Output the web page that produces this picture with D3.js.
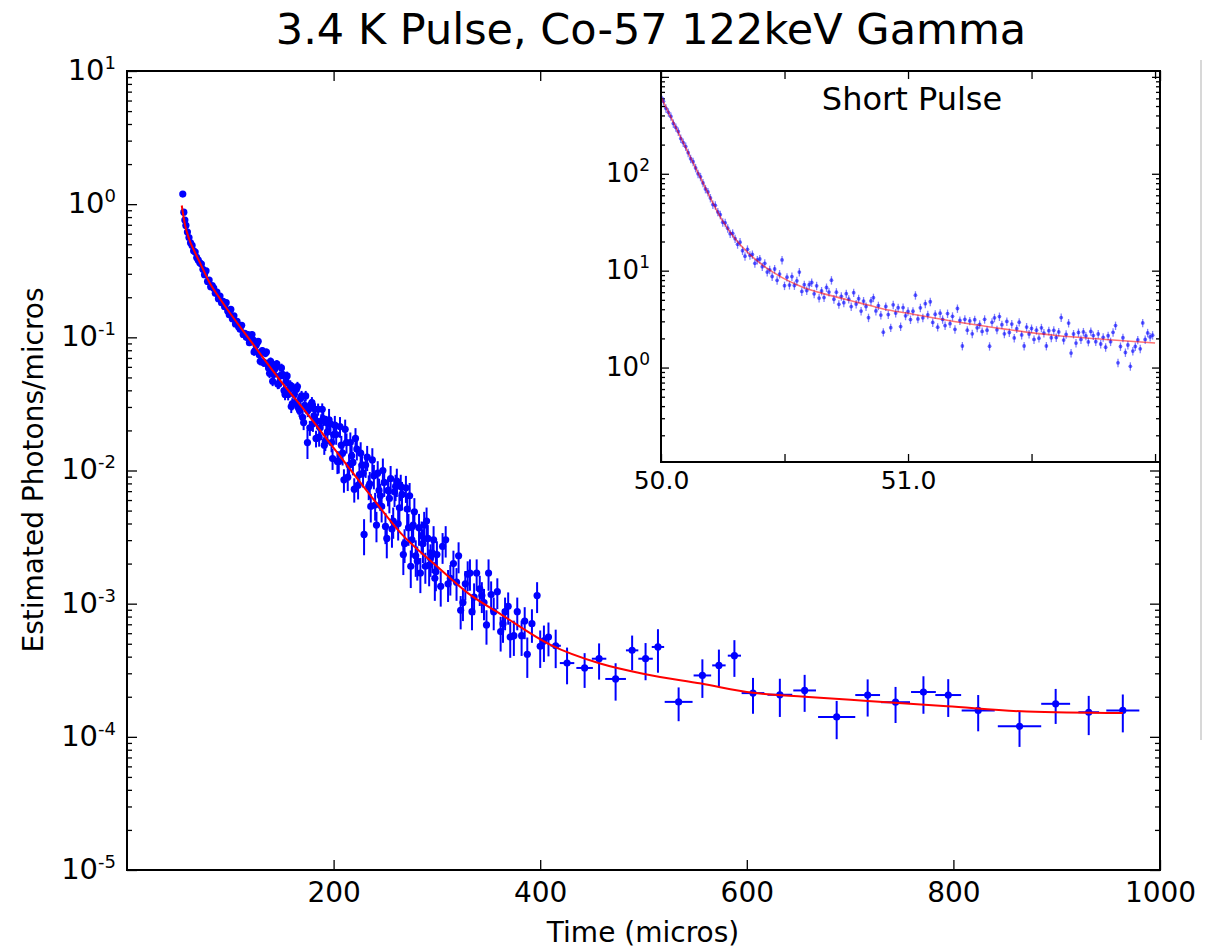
<!DOCTYPE html>
<html>
<head>
<meta charset="utf-8">
<script src="https://d3js.org/d3.v7.min.js"></script>
<style>
  body { margin: 0; background: #fff; }
  text { font-family: "DejaVu Sans", sans-serif; fill: #000; }
</style>
</head>
<body>
<svg id="chart"></svg>
<script>
// Main plot, narrow early bins (micros, photons/micros, error)
var denseTime = [54, 55, 56, 57, 58.5, 60, 61.5, 63, 64.5, 66, 67.5, 69, 70.5, 72, 73.5, 75, 76.5, 78, 79.5, 81,
    82.5, 84, 85.5, 87, 88.5, 90, 91.5, 93, 94.5, 96, 97.5, 99, 100.5, 102, 103.5, 105, 106.5, 108, 109.5, 111,
    112.5, 114, 115.5, 117, 118.5, 120,
    122, 124, 126, 128, 130, 132, 134, 136, 138, 140, 142, 144, 146, 148, 149.5, 152, 154, 156, 158, 160,
    162, 164, 166, 168, 170, 172, 174.7, 176, 178, 180, 182, 184, 186, 188, 190, 192, 194, 195.6, 198, 200,
    202.5, 205, 207.5, 210, 212.5, 215, 217.5, 220, 222.5, 225, 227.5, 229.5, 231, 234, 236, 239, 241.5, 244, 246.5, 249,
    251.5, 254, 256.5, 259, 260, 262.5, 265, 267.5, 270, 272.5, 274.7, 277, 279.5, 282.7, 284, 286.5, 290, 292.5, 295.6, 298,
    300, 303.7, 308.5, 313, 319, 323, 327.5, 332, 336, 341.5, 345.6, 350, 355, 361.7, 366, 371, 377.8, 382, 387.5, 392,
    397, 403.6];
var denseValue = [1.19, 0.871, 0.759, 0.692, 0.617, 0.562, 0.513, 0.490, 0.447, 0.437, 0.398, 0.380, 0.363, 0.355, 0.324, 0.295,
    0.316, 0.263, 0.269, 0.240, 0.245, 0.234, 0.214, 0.219, 0.195, 0.204, 0.182, 0.186, 0.170, 0.182, 0.158, 0.148,
    0.162, 0.138, 0.145, 0.126, 0.132, 0.120, 0.115, 0.123, 0.105, 0.107, 0.100, 0.105, 0.0912, 0.0977,
    0.0955, 0.0794, 0.0912, 0.0741, 0.0776, 0.0646, 0.0759, 0.0631, 0.0537, 0.0631, 0.0525, 0.0617, 0.0447, 0.0513, 0.0589, 0.0398,
    0.0468, 0.0372, 0.0437, 0.0316, 0.0372, 0.0407, 0.0295, 0.0347, 0.0251, 0.0309, 0.0162, 0.0295, 0.0309, 0.0224, 0.0288, 0.0234,
    0.0178, 0.0234, 0.0245, 0.0166, 0.0195, 0.0240, 0.0162, 0.0186,
    0.0186, 0.0117, 0.0155, 0.00851, 0.0162, 0.0110, 0.0129, 0.00724, 0.0145, 0.00933, 0.0110, 0.00331, 0.0110, 0.00759, 0.00537, 0.00912,
    0.00389, 0.00708, 0.00537, 0.00813, 0.00309, 0.00617, 0.00363, 0.00692, 0.00759, 0.00398, 0.00759, 0.00234, 0.00741, 0.00372,
    0.00191, 0.00389, 0.00229, 0.00372, 0.00170, 0.00282, 0.00417, 0.00195, 0.00240, 0.00155,
    0.00234, 0.00135, 0.00302, 0.00155, 0.00145, 0.000891, 0.00141, 0.00170, 0.00112, 0.00129, 0.00102, 0.00170, 0.000871, 0.000617,
    0.000871, 0.000562, 0.000871, 0.000575, 0.000417, 0.000708, 0.00115, 0.000525];
var denseErr = [0.036, 0.026, 0.023, 0.021, 0.019, 0.017, 0.016, 0.015, 0.014, 0.014, 0.013, 0.012, 0.012, 0.012, 0.011, 0.010,
    0.011, 0.0095, 0.0095, 0.009, 0.009, 0.009, 0.0085, 0.0085, 0.008, 0.008, 0.0075, 0.0075, 0.0072, 0.0075, 0.007, 0.0068,
    0.007, 0.0065, 0.0066, 0.0062, 0.0063, 0.006, 0.0059, 0.006, 0.0056, 0.0056, 0.0055, 0.0056, 0.0052, 0.0054,
    0.0055, 0.005, 0.0055, 0.005, 0.005, 0.0046, 0.005, 0.0046, 0.0043, 0.0046, 0.0042, 0.0045, 0.0039, 0.0042, 0.0045, 0.0037,
    0.004, 0.0036, 0.0039, 0.0033, 0.0036, 0.0037, 0.0032, 0.0035, 0.003, 0.0033, 0.004, 0.0032, 0.0033, 0.0029, 0.0032, 0.003,
    0.0027, 0.003, 0.003, 0.0026, 0.0027, 0.005, 0.0025, 0.0027,
    0.003, 0.0022, 0.0027, 0.0017, 0.0028, 0.0021, 0.0024, 0.0015, 0.0026, 0.0019, 0.0021, 0.001, 0.0022, 0.0016, 0.0013, 0.0019,
    0.001, 0.0016, 0.0013, 0.0018, 0.0009, 0.0014, 0.001, 0.0016, 0.0017, 0.001, 0.0017, 0.0007, 0.0017, 0.001,
    0.0006, 0.001, 0.0007, 0.001, 0.0005, 0.0008, 0.0011, 0.0006, 0.0007, 0.0005,
    0.0006, 0.0004, 0.0008, 0.0004, 0.0004, 0.00025, 0.00035, 0.00045, 0.0003, 0.00033, 0.00027, 0.00045, 0.00024, 0.00018,
    0.00024, 0.00017, 0.00024, 0.00017, 0.00014, 0.0002, 0.0003, 0.00016];

// Main plot, the interleaved narrow bins in the same range
var oddTime = [121, 123, 125, 127, 129, 131, 133, 135, 137, 139, 141, 143, 145, 147, 151, 153, 155, 157, 159, 161,
    163, 165, 167, 169, 171, 173, 175, 177, 179, 181, 183, 185, 187, 189, 191, 193, 197, 199,
    201.2, 203.7, 206.2, 208.7, 211.2, 213.7, 216.2, 218.7, 221.2, 223.7, 226.2, 228.5, 232.5, 235, 237.5, 240.2, 242.7, 245.2,
    247.7, 250.2, 252.7, 255.2, 257.7, 261.2, 263.7, 266.2, 268.7, 271.2, 273.6, 275.8, 278.2, 281, 285.2, 287.7, 288.8, 291.2,
    293.8, 296.8, 299,
    305.5, 310.8, 316, 321, 325.2, 329.8, 334, 338.5, 343.5, 348, 352.5, 358.5, 364, 369, 374.5, 385, 400, 408];
var oddValue = [0.105, 0.0776, 0.0871, 0.0933, 0.0661, 0.0794, 0.0646, 0.0776, 0.0589, 0.0661, 0.0468, 0.0575, 0.0631, 0.0447,
    0.0525, 0.0372, 0.0513, 0.0407, 0.0302, 0.0417, 0.0324, 0.0427, 0.0282, 0.0363, 0.0229, 0.0363, 0.0282, 0.0209, 0.0324, 0.0257,
    0.0174, 0.0288, 0.0209, 0.0288, 0.0155, 0.0229, 0.0224, 0.0123,
    0.0219, 0.0117, 0.0214, 0.0135, 0.0204, 0.00891, 0.0162, 0.0115, 0.0174, 0.00776, 0.0135, 0.00955, 0.0126, 0.00794, 0.0120,
    0.00550, 0.00955, 0.00646, 0.0100, 0.00380, 0.00708, 0.00871, 0.00417, 0.00832, 0.00525, 0.00661, 0.00282, 0.00513, 0.00646,
    0.00302, 0.00490, 0.00209, 0.00324, 0.00389, 0.00191, 0.00309, 0.00219, 0.00302, 0.00174,
    0.00269, 0.00141, 0.00200, 0.00229, 0.00102, 0.00166, 0.000871, 0.00170, 0.00115, 0.000692, 0.00117, 0.00123, 0.000708,
    0.000955, 0.000575, 0.000741, 0.000479, 0.000562];
var oddErr = [0.0055, 0.0048, 0.005, 0.0052, 0.0045, 0.0048, 0.0044, 0.0048, 0.0042, 0.0044, 0.0038, 0.0042, 0.0043, 0.0037,
    0.004, 0.0035, 0.004, 0.0036, 0.0032, 0.0036, 0.0032, 0.0036, 0.003, 0.0033, 0.0028, 0.0033, 0.003, 0.0027, 0.0032, 0.0029,
    0.0025, 0.003, 0.0027, 0.0031, 0.0024, 0.0028, 0.0028, 0.0022,
    0.0038, 0.0023, 0.0038, 0.0026, 0.0037, 0.0019, 0.0031, 0.0023, 0.0034, 0.0017, 0.0028, 0.0021, 0.0027, 0.0018, 0.0027,
    0.0013, 0.0022, 0.0015, 0.0023, 0.001, 0.0017, 0.0021, 0.0011, 0.002, 0.0013, 0.0016, 0.0008, 0.0013, 0.0016,
    0.0008, 0.0013, 0.0006, 0.0009, 0.001, 0.0005, 0.0008, 0.0006, 0.0008, 0.0005,
    0.0007, 0.00038, 0.0005, 0.0006, 0.00028, 0.00042, 0.00024, 0.00045, 0.0003, 0.0002, 0.0003, 0.00032, 0.0002,
    0.00026, 0.00017, 0.0002, 0.00015, 0.00016];

// Main plot, wide late bins
var binTime = [415, 426, 443, 457, 473, 489, 502, 514, 534, 557, 573, 588, 606, 632, 656, 687, 717, 744, 771, 795, 824, 864, 899, 931, 964];
var binValue = [4.83e-4, 3.58e-4, 3.29e-4, 3.86e-4, 2.72e-4, 4.46e-4, 3.86e-4, 4.73e-4, 1.83e-4, 2.89e-4, 3.44e-4, 4.07e-4, 2.13e-4,
    2.07e-4, 2.23e-4, 1.41e-4, 2.06e-4, 1.82e-4, 2.17e-4, 2.06e-4, 1.58e-4, 1.2e-4, 1.77e-4, 1.53e-4, 1.58e-4];
var binErr = [1.55e-4, 1.1e-4, 0.96e-4, 1.17e-4, 0.85e-4, 1.3e-4, 1.2e-4, 1.7e-4, 0.52e-4, 0.93e-4, 1.08e-4, 1.25e-4, 0.64e-4,
    0.66e-4, 0.69e-4, 0.45e-4, 0.64e-4, 0.55e-4, 0.68e-4, 0.65e-4, 0.48e-4, 0.36e-4, 0.52e-4, 0.5e-4, 0.5e-4];
var binHalfWidth = [5, 7, 8, 7, 10, 6, 7, 6, 13.5, 8.5, 6.5, 6.4, 11, 12, 11, 18, 12, 14, 12, 12.5, 16, 21, 14, 10, 16];

// Main fit
var fitTime = [53, 56, 60, 65, 70, 80, 90, 100, 120, 150, 170, 200, 236, 265, 300, 330, 362, 410, 458, 502, 556, 606, 656, 717, 794, 871, 964];
var fitValue = [0.977, 0.708, 0.550, 0.447, 0.372, 0.257, 0.195, 0.151, 0.0933, 0.0457, 0.0295, 0.0148, 0.00646, 0.00339, 0.00191,
    0.00120, 0.000832, 0.000490, 0.000355, 0.000295, 0.000251, 0.000214, 0.000200, 0.000186, 0.000170, 0.000155, 0.000151];

// Inset: short pulse, 0.01 micros bins starting at 50.00
var insetStart = 50.0;
var insetBin = 0.01;
var insetValue = [617, 560, 474, 431, 391, 331, 301, 273, 231, 210,
    191, 165, 143, 133, 115, 100, 92.9, 80.5, 69.8, 64.9,
    56.2, 48.1, 47.2, 40.4, 37.8, 31.6, 31.2, 27.4, 24.1, 24.3,
    21.4, 18.7, 19.7, 16.1, 14.1, 16.6, 14.4, 14.7, 11.9, 12.9,
    13.2, 11.0, 11.9, 9.68, 10.2, 8.71, 10.4, 7.94, 9.23, 12.9,
    7.00, 8.57, 7.10, 8.69, 7.03, 7.85, 9.66, 6.10, 7.16, 6.24,
    7.16, 7.55, 5.77, 6.98, 5.21, 6.17, 5.28, 6.70, 6.01, 7.98,
    5.07, 6.00, 4.49, 5.44, 4.67, 5.79, 5.08, 4.26, 5.93, 4.53,
    5.13, 3.83, 4.86, 4.27, 3.27, 4.87, 5.26, 3.84, 4.35, 3.48,
    2.32, 4.27, 3.52, 2.58, 4.44, 3.65, 4.15, 2.65, 4.16, 3.42,
    3.80, 3.13, 3.81, 5.58, 3.18, 4.14, 3.26, 4.56, 3.50, 4.78,
    2.92, 3.55, 2.61, 3.64, 3.14, 2.71, 3.61, 2.84, 3.38, 2.48,
    4.07, 3.06, 1.67, 3.15, 2.43, 3.03, 2.23, 3.12, 2.57, 2.79,
    2.36, 3.15, 2.43, 1.66, 2.93, 3.26, 2.45, 3.36, 2.77, 2.23,
    2.99, 2.30, 2.81, 2.02, 2.52, 2.94, 2.17, 1.67, 2.62, 2.22,
    2.53, 1.95, 2.43, 2.01, 2.57, 2.27, 1.67, 2.40, 2.03, 2.42,
    2.04, 2.33, 3.28, 1.92, 2.20, 2.88, 1.41, 2.22, 1.79, 2.30,
    1.95, 2.33, 2.12, 1.84, 2.36, 2.14, 1.85, 2.22, 1.75, 2.05,
    1.62, 2.13, 1.85, 2.31, 2.71, 1.12, 1.65, 2.03, 1.43, 1.71,
    1.03, 1.48, 1.65, 1.93, 1.56, 2.89, 1.95, 2.28, 2.07, 2.16];
var insetRelErr = 0.1;

var insetFitTime = [50.0, 50.05, 50.1, 50.15, 50.2, 50.25, 50.3, 50.35, 50.4, 50.45, 50.5, 50.55, 50.6, 50.7, 50.8, 50.9, 51.0, 51.2, 51.4, 51.6, 51.8, 52.0];
var insetFitValue = [617, 339, 186, 102, 56.2, 32.4, 21.4, 15.5, 12.0, 9.77, 8.22, 7.16, 6.38, 5.43, 4.68, 4.03, 3.63, 2.95, 2.48, 2.14, 1.95, 1.79];

// Ticks
var mainXTicks = [200, 400, 600, 800, 1000];
var mainYTicks = [1e-5, 1e-4, 1e-3, 1e-2, 1e-1, 1e0, 1e1];
var mainYExp = ['-5', '-4', '-3', '-2', '-1', '0', '1'];
var insetXTicks = [50.0, 50.5, 51.0, 51.5, 52.0];
var insetXLabels = ['50.0', '', '51.0', '', ''];
var insetYTicks = [1e0, 1e1, 1e2, 1e3];
var insetYExp = ['0', '1', '2', ''];

var svg = d3.select('#chart').attr('width', 1210).attr('height', 950);

var x = d3.scaleLinear().domain([0, 1000]).range([127, 1160]);
var y = d3.scaleLog().domain([1e-5, 10]).range([870, 71]);

function isMajor(v) { return Math.abs(Math.log10(v) - Math.round(Math.log10(v))) < 1e-6; }

function cleanAxis(g, size) {
    g.attr('font-size', size).attr('font-family', null);
    g.select('.domain').remove();
    g.selectAll('.tick line').attr('stroke', '#000').attr('stroke-width', 1.3);
    g.selectAll('.tick text').attr('fill', '#000');
}

function powerLabels(g, exps, size, supSize) {
    g.selectAll('.tick text').remove();
    g.selectAll('.tick').each(function (d, i) {
        if (!exps[i]) return;
        var t = d3.select(this).append('text')
            .attr('x', -11).attr('dy', '0.29em')
            .attr('text-anchor', 'end').attr('font-size', size);
        t.append('tspan').text('10');
        t.append('tspan').attr('dy', -11).attr('font-size', supSize).text(exps[i]);
    });
}

// ---- main axes ----
var mainMinor = y.ticks().filter(function (d) { return !isMajor(d); });

svg.append('g').attr('transform', 'translate(0,870)')
    .call(d3.axisBottom(x).tickValues(mainXTicks).tickSize(-10).tickPadding(12).tickFormat(d3.format('d')))
    .call(cleanAxis, 28);
svg.append('g').attr('transform', 'translate(0,71)')
    .call(d3.axisTop(x).tickValues(mainXTicks).tickSize(-10).tickFormat(''))
    .call(cleanAxis, 28);

svg.append('g').attr('transform', 'translate(127,0)')
    .call(d3.axisLeft(y).tickValues(mainYTicks).tickSize(-10).tickFormat(''))
    .call(cleanAxis, 28)
    .call(powerLabels, mainYExp, 29, 18);
svg.append('g').attr('transform', 'translate(127,0)')
    .call(d3.axisLeft(y).tickValues(mainMinor).tickSize(-5).tickFormat(''))
    .call(cleanAxis, 28);
svg.append('g').attr('transform', 'translate(1160,0)')
    .call(d3.axisRight(y).tickValues(mainYTicks).tickSize(-10).tickFormat(''))
    .call(cleanAxis, 28);
svg.append('g').attr('transform', 'translate(1160,0)')
    .call(d3.axisRight(y).tickValues(mainMinor).tickSize(-5).tickFormat(''))
    .call(cleanAxis, 28);

// ---- main data ----
var dense = denseTime.map(function (t, i) { return { t: t, v: denseValue[i], e: denseErr[i] }; })
    .concat(oddTime.map(function (t, i) { return { t: t, v: oddValue[i], e: oddErr[i] }; }));
var bins = binTime.map(function (t, i) { return { t: t, v: binValue[i], e: binErr[i], w: binHalfWidth[i] }; });

var mainData = svg.append('g');

mainData.selectAll('line.dv').data(dense.concat(bins)).enter().append('line')
    .attr('class', 'dv')
    .attr('x1', function (d) { return x(d.t); })
    .attr('x2', function (d) { return x(d.t); })
    .attr('y1', function (d) { return y(d.v - d.e); })
    .attr('y2', function (d) { return y(d.v + d.e); })
    .attr('stroke', '#0000ff').attr('stroke-width', 2);

mainData.selectAll('line.dh').data(bins).enter().append('line')
    .attr('class', 'dh')
    .attr('x1', function (d) { return x(d.t - d.w); })
    .attr('x2', function (d) { return x(d.t + d.w); })
    .attr('y1', function (d) { return y(d.v); })
    .attr('y2', function (d) { return y(d.v); })
    .attr('stroke', '#0000ff').attr('stroke-width', 2);

mainData.selectAll('circle').data(dense.concat(bins)).enter().append('circle')
    .attr('cx', function (d) { return x(d.t); })
    .attr('cy', function (d) { return y(d.v); })
    .attr('r', 3.6)
    .attr('fill', '#0000ff');

var fitLine = d3.line()
    .x(function (d, i) { return x(fitTime[i]); })
    .y(function (d) { return y(d); })
    .curve(d3.curveMonotoneX);

mainData.append('path')
    .attr('d', fitLine(fitValue))
    .attr('fill', 'none')
    .attr('stroke', '#ff0000')
    .attr('stroke-width', 2);

svg.append('rect')
    .attr('x', 127).attr('y', 71).attr('width', 1033).attr('height', 799)
    .attr('fill', 'none').attr('stroke', '#000').attr('stroke-width', 2);

// ---- inset ----
var ix = d3.scaleLinear().domain([50, 52.02]).range([661, 1160]);
var iy = d3.scaleLog().domain([0.106, 1150]).range([462, 71]);
var inset = svg.append('g');

inset.append('rect')
    .attr('x', 661).attr('y', 71).attr('width', 499).attr('height', 391)
    .attr('fill', '#fff');

inset.append('clipPath').attr('id', 'insetClip')
    .append('rect').attr('x', 661).attr('y', 71).attr('width', 499).attr('height', 391);

var insetMinor = iy.ticks().filter(function (d) { return !isMajor(d); });

inset.append('g').attr('transform', 'translate(0,462)')
    .call(d3.axisBottom(ix).tickValues(insetXTicks).tickSize(-8).tickPadding(9)
        .tickFormat(function (d, i) { return insetXLabels[i]; }))
    .call(cleanAxis, 25);
inset.append('g').attr('transform', 'translate(0,71)')
    .call(d3.axisTop(ix).tickValues(insetXTicks).tickSize(-8).tickFormat(''))
    .call(cleanAxis, 25);
inset.append('g').attr('transform', 'translate(661,0)')
    .call(d3.axisLeft(iy).tickValues(insetYTicks).tickSize(-8).tickFormat(''))
    .call(cleanAxis, 25)
    .call(powerLabels, insetYExp, 26, 17);
inset.append('g').attr('transform', 'translate(661,0)')
    .call(d3.axisLeft(iy).tickValues(insetMinor).tickSize(-4).tickFormat(''))
    .call(cleanAxis, 25);
inset.append('g').attr('transform', 'translate(1160,0)')
    .call(d3.axisRight(iy).tickValues(insetYTicks).tickSize(-8).tickFormat(''))
    .call(cleanAxis, 25);
inset.append('g').attr('transform', 'translate(1160,0)')
    .call(d3.axisRight(iy).tickValues(insetMinor).tickSize(-4).tickFormat(''))
    .call(cleanAxis, 25);

var shortData = insetValue.map(function (v, i) { return { t: insetStart + i * insetBin, v: v }; });
var insetPlot = inset.append('g').attr('clip-path', 'url(#insetClip)');

insetPlot.selectAll('line').data(shortData).enter().append('line')
    .attr('x1', function (d) { return ix(d.t); })
    .attr('x2', function (d) { return ix(d.t); })
    .attr('y1', function (d) { return iy(d.v * (1 - insetRelErr)); })
    .attr('y2', function (d) { return iy(d.v * (1 + insetRelErr)); })
    .attr('stroke', '#0000ff').attr('stroke-opacity', 0.5).attr('stroke-width', 1.3);

insetPlot.selectAll('circle').data(shortData).enter().append('circle')
    .attr('cx', function (d) { return ix(d.t); })
    .attr('cy', function (d) { return iy(d.v); })
    .attr('r', 1.9)
    .attr('fill', '#0000ff').attr('fill-opacity', 0.6);

var insetFitLine = d3.line()
    .x(function (d, i) { return ix(insetFitTime[i]); })
    .y(function (d) { return iy(d); })
    .curve(d3.curveMonotoneX);

insetPlot.append('path')
    .attr('d', insetFitLine(insetFitValue))
    .attr('fill', 'none')
    .attr('stroke', '#ff0000').attr('stroke-opacity', 0.55)
    .attr('stroke-width', 1.6);

inset.append('rect')
    .attr('x', 661).attr('y', 71).attr('width', 499).attr('height', 391)
    .attr('fill', 'none').attr('stroke', '#000').attr('stroke-width', 2);

inset.append('text')
    .attr('x', 912).attr('y', 110)
    .attr('text-anchor', 'middle').attr('font-size', 32)
    .text('Short Pulse');

// ---- titles ----
svg.append('text')
    .attr('x', 651).attr('y', 44)
    .attr('text-anchor', 'middle').attr('font-size', 43)
    .text('3.4 K Pulse, Co-57 122keV Gamma');

svg.append('text')
    .attr('x', 643).attr('y', 942)
    .attr('text-anchor', 'middle').attr('font-size', 28)
    .text('Time (micros)');

svg.append('text')
    .attr('transform', 'translate(43,470) rotate(-90)')
    .attr('text-anchor', 'middle').attr('font-size', 28)
    .text('Estimated Photons/micros');

// faint line at the right edge of the figure
svg.append('line')
    .attr('x1', 1201).attr('x2', 1201).attr('y1', 60).attr('y2', 740)
    .attr('stroke', '#d8d8d8').attr('stroke-width', 2);
</script>
</body>
</html>
